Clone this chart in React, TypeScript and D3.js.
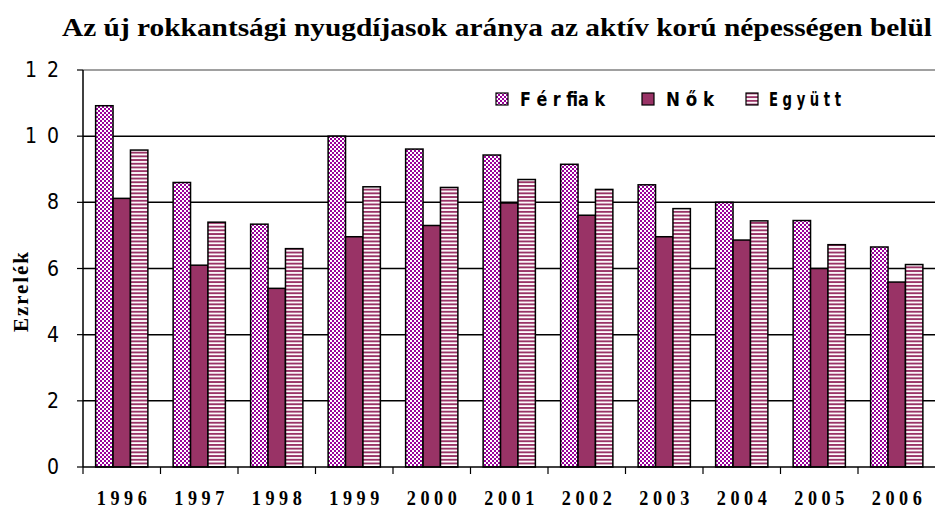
import React, { useEffect, useRef } from "react";
import * as d3 from "d3";

const years = ["1996", "1997", "1998", "1999", "2000", "2001", "2002", "2003", "2004", "2005", "2006"];
const ferfiak = [10.92, 8.6, 7.34, 10.0, 9.61, 9.43, 9.15, 8.53, 8.0, 7.45, 6.65];
const nok = [8.12, 6.1, 5.4, 6.96, 7.3, 7.98, 7.61, 6.96, 6.86, 6.0, 5.59];
const egyutt = [9.58, 7.4, 6.6, 8.47, 8.45, 8.69, 8.39, 7.81, 7.44, 6.72, 6.12];
const seriesNames = ["Férfiak", "Nők", "Együtt"];
const legendLabels = ["F é r fia k", "N ő k", "E g y ü t t"];
const yTicks = [0, 2, 4, 6, 8, 10, 12];
const title = "Az új rokkantsági nyugdíjasok aránya az aktív korú népességen belül";
const yTitle = "E z r e l é k";

const narrow = "'Liberation Sans Narrow', 'DejaVu Sans Condensed', 'Liberation Sans', sans-serif";

export default function App() {
  const ref = useRef<SVGSVGElement>(null);
  useEffect(() => {
    const svg = d3.select(ref.current);
    svg.selectAll("*").remove();
    const W = 935;
    const left = 83, right = 935.5, top = 70, bottom = 467;
    const defs = svg.append("defs");
    const chk = defs.append("pattern").attr("id", "chk").attr("patternUnits", "userSpaceOnUse")
      .attr("width", 4).attr("height", 4);
    chk.append("rect").attr("width", 4).attr("height", 4).attr("fill", "#ffffff");
    chk.append("rect").attr("x", 0).attr("y", 0).attr("width", 2).attr("height", 2).attr("fill", "#990099");
    chk.append("rect").attr("x", 2).attr("y", 2).attr("width", 2).attr("height", 2).attr("fill", "#990099");
    const str = defs.append("pattern").attr("id", "str").attr("patternUnits", "userSpaceOnUse")
      .attr("width", 4).attr("height", 3.7);
    str.append("rect").attr("width", 4).attr("height", 3.7).attr("fill", "#ffffff");
    str.append("rect").attr("y", 0).attr("width", 4).attr("height", 1.9).attr("fill", "#993366");
    const fills = ["url(#chk)", "#993366", "url(#str)"];

    const x = d3.scaleBand<string>().domain(years).range([left, right]).padding(0);
    const y = d3.scaleLinear().domain([0, 12]).range([bottom, top]);
    const step = x.bandwidth();
    const bw = step / 4.45;
    const x1 = d3.scaleBand<number>().domain([0, 1, 2]).range([(step - 3 * bw) / 2, (step + 3 * bw) / 2]).padding(0);

    svg.append("text").attr("x", 497).attr("y", 36).attr("text-anchor", "middle")
      .attr("font-family", "'Liberation Serif', serif").attr("font-weight", "bold").attr("font-size", 26)
      .attr("textLength", 870).attr("lengthAdjust", "spacingAndGlyphs").text(title);

    const g = svg.append("g");
    yTicks.filter(t => t > 0).forEach(t => {
      g.append("line").attr("x1", left).attr("x2", W).attr("y1", y(t)).attr("y2", y(t))
        .attr("stroke", t === 12 ? "#808080" : "#000").attr("stroke-width", 1.5);
    });

    const data = [ferfiak, nok, egyutt];
    years.forEach((yr, i) => {
      data.forEach((arr, s) => {
        g.append("rect").attr("x", (x(yr) as number) + (x1(s) as number)).attr("y", y(arr[i]))
          .attr("width", x1.bandwidth()).attr("height", y(0) - y(arr[i]))
          .attr("fill", fills[s]).attr("stroke", "#000").attr("stroke-width", 1.5);
      });
    });

    g.append("line").attr("x1", left).attr("x2", left).attr("y1", top).attr("y2", bottom)
      .attr("stroke", "#000").attr("stroke-width", 1.5);
    g.append("line").attr("x1", left).attr("x2", W).attr("y1", bottom).attr("y2", bottom)
      .attr("stroke", "#000").attr("stroke-width", 1.5);
    yTicks.forEach(t => {
      g.append("line").attr("x1", left - 6).attr("x2", left).attr("y1", y(t)).attr("y2", y(t))
        .attr("stroke", "#000").attr("stroke-width", 1.2);
      g.append("text").attr("x", 61).attr("y", y(t) + 7).attr("text-anchor", "end")
        .attr("font-family", narrow).attr("font-size", 21).attr("letter-spacing", 2)
        .attr("fill", "#000").text(String(t).split("").join(" "));
    });
    years.forEach((yr) => {
      const xs = x(yr) as number;
      g.append("line").attr("x1", xs).attr("x2", xs).attr("y1", bottom).attr("y2", bottom + 7)
        .attr("stroke", "#000").attr("stroke-width", 1.2);
      g.append("text").attr("x", xs + step / 2).attr("y", 505).attr("text-anchor", "middle")
        .attr("font-family", "'Liberation Serif', serif").attr("font-weight", "bold").attr("font-size", 22)
        .attr("textLength", 50).attr("lengthAdjust", "spacingAndGlyphs").text(yr.split("").join(" "));
    });

    svg.append("text").attr("transform", `translate(28,292) rotate(-90)`)
      .attr("text-anchor", "middle").attr("font-family", "'Liberation Serif', serif").attr("font-weight", "bold")
      .attr("font-size", 21).attr("textLength", 80).attr("lengthAdjust", "spacing").text(yTitle);

    const lx = [496, 642, 746];
    const tx = [520, 666, 769];
    const tl = [85, 48, 72];
    seriesNames.forEach((n, s) => {
      svg.append("rect").attr("x", lx[s]).attr("y", 93).attr("width", 12).attr("height", 12)
        .attr("fill", fills[s]).attr("stroke", "#000").attr("stroke-width", 1.2);
      svg.append("text").attr("x", tx[s]).attr("y", 106).attr("font-family", narrow)
        .attr("font-weight", "bold").attr("font-size", 19)
        .attr("textLength", tl[s]).attr("lengthAdjust", "spacingAndGlyphs").text(legendLabels[s]);
    });
  }, []);
  return <svg ref={ref} width={935} height={515} style={{ position: "absolute", left: 0, top: 0 }} />;
}
